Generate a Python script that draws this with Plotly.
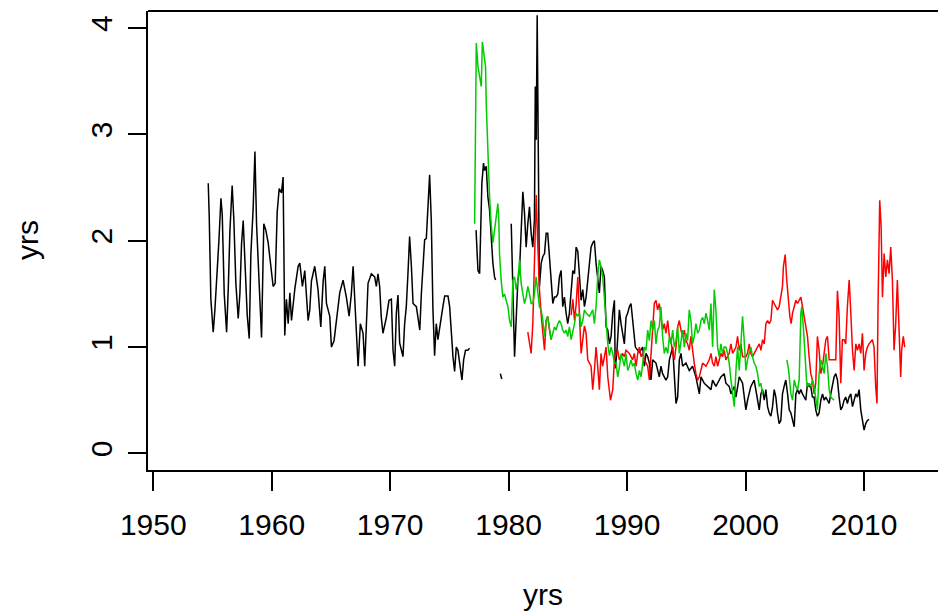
import plotly.graph_objects as go

# ---------------- data ----------------
black_t = [1954.64,1954.72,1954.86,1955.06,1955.2,1955.34,1955.54,1955.71,1955.82,1955.99,
           1956.19,1956.33,1956.47,1956.66,1956.8,1956.97,1957.17,1957.31,1957.45,1957.59,
           1957.76,1957.93,1958.1,1958.24,1958.43,1958.58,1958.72,1958.86,1959.0,1959.14,
           1959.33,1959.5,1959.7,1959.9,1960.12,1960.29,1960.46,1960.63,1960.82,1960.96,
           1961.1,1961.24,1961.39,1961.53,1961.67,1961.95,1962.23,1962.37,1962.59,1962.79,
           1962.93,1963.07,1963.21,1963.35,1963.63,1963.91,1964.14,1964.34,1964.48,1964.62,
           1964.9,1965.04,1965.26,1965.46,1965.74,1966.02,1966.3,1966.53,1966.72,1966.87,
           1967.0,1967.29,1967.48,1967.71,1967.85,1968.0,1968.13,1968.41,1968.69,1968.83,
           1968.97,1969.11,1969.25,1969.39,1969.68,1969.9,1970.1,1970.24,1970.38,1970.52,
           1970.66,1970.8,1970.94,1971.08,1971.22,1971.36,1971.5,1971.64,1971.79,1971.93,
           1972.21,1972.5,1972.63,1972.77,1972.91,1973.05,1973.19,1973.33,1973.47,1973.61,
           1973.75,1973.89,1974.03,1974.17,1974.31,1974.45,1974.6,1974.88,1975.02,1975.16,
           1975.3,1975.44,1975.58,1975.72,1975.86,1976.06,1976.2,1976.36,1976.56,1976.7,
           None,
           1977.25,1977.35,1977.41,1977.55,1977.63,1977.74,1977.88,1977.97,1978.11,1978.25,
           1978.39,1978.53,1978.67,1978.81,1978.9,
           None,
           1979.3,1979.42,
           None,
           1980.22,1980.36,1980.5,1980.78,1980.92,1981.1,1981.2,1981.34,1981.48,1981.62,
           1981.76,1981.9,1982.04,1982.18,1982.25,1982.33,1982.41,1982.5,1982.6,1982.75,
           1982.88,1983.03,1983.17,1983.3,1983.45,1983.59,1983.73,1983.87,1984.01,1984.15,
           1984.29,1984.43,1984.57,1984.71,1984.85,1984.99,1985.13,1985.28,1985.42,1985.56,
           1985.7,1985.84,1985.98,1986.12,1986.26,1986.4,1986.54,1986.68,1986.82,1986.96,
           1987.1,1987.24,1987.38,1987.52,1987.66,1987.8,1987.94,1988.08,1988.23,1988.37,
           1988.51,1988.65,1988.79,1988.93,1989.0,1989.13,1989.35,1989.49,1989.63,1989.77,
           1989.91,1990.05,1990.19,1990.33,1990.7,1991.04,1991.32,1991.46,1991.6,1991.74,
           1991.88,1992.02,1992.16,1992.44,1992.72,1992.86,1993.0,1993.28,1993.43,1993.57,
           1993.85,1993.99,1994.13,1994.27,1994.41,1994.55,1994.69,1994.97,1995.25,1995.53,
           1995.81,1996.1,1996.24,1996.52,1996.8,1997.08,1997.22,1997.5,1997.64,1997.92,
           1998.2,1998.34,1998.62,1998.77,1999.05,1999.19,1999.47,1999.75,2000.03,2000.17,
           2000.45,2000.73,2001.02,2001.16,2001.3,2001.44,2001.58,2001.72,2001.86,2002.0,
           2002.14,2002.28,2002.42,2002.56,2002.7,2002.84,2002.98,2003.12,2003.26,2003.4,
           2003.55,2003.69,2003.83,2003.97,2004.11,2004.25,2004.39,2004.53,2004.67,2004.81,
           2004.95,2005.09,2005.23,2005.37,2005.51,2005.65,2005.79,2005.93,2006.07,2006.21,
           2006.36,2006.5,2006.64,2006.78,2006.92,2007.06,2007.2,2007.34,2007.48,2007.62,
           2007.76,2007.9,2008.04,2008.18,2008.32,2008.46,2008.6,2008.74,2008.89,2009.03,
           2009.17,2009.31,2009.45,2009.59,2009.73,2009.87,2010.01,2010.15,2010.29,2010.43]
black_v = [2.54,2.24,1.45,1.14,1.35,1.6,2.0,2.40,2.25,1.5,
           1.14,1.55,2.1,2.52,2.2,1.6,1.27,1.5,1.97,2.19,
           1.75,1.3,1.08,1.88,2.3,2.84,2.15,1.79,1.4,1.09,
           2.16,2.10,1.98,1.8,1.57,1.6,2.27,2.49,2.45,2.60,
           1.11,1.45,1.22,1.51,1.25,1.55,1.76,1.79,1.57,1.72,
           1.47,1.25,1.35,1.62,1.76,1.54,1.19,1.62,1.76,1.41,
           1.29,1.00,1.06,1.25,1.51,1.63,1.47,1.29,1.5,1.76,
           1.48,0.82,1.22,1.13,0.82,1.22,1.6,1.69,1.66,1.57,
           1.69,1.57,1.28,1.13,1.28,1.44,1.45,0.97,0.82,1.32,
           1.49,1.04,0.97,0.91,1.22,1.38,1.69,2.04,1.76,1.41,
           1.38,1.16,1.5,1.82,2.01,2.02,2.29,2.62,2.19,1.35,
           0.92,1.22,1.07,1.16,1.29,1.38,1.48,1.48,1.38,1.14,
           0.91,0.77,1.0,0.97,0.85,0.69,0.88,0.97,0.97,0.99,
           None,
           2.1,1.85,1.72,1.69,2.04,2.54,2.73,2.66,2.70,2.41,
           2.29,2.04,1.79,1.66,1.63,
           None,
           0.75,0.70,
           None,
           2.16,1.5,0.91,1.63,1.72,2.2,2.46,2.26,1.94,2.16,
           2.32,2.07,1.94,2.2,3.45,2.95,4.12,2.91,1.57,1.79,
           1.85,1.88,2.07,2.07,1.79,1.63,1.41,1.47,1.47,1.5,
           1.66,1.72,1.38,1.47,1.32,1.22,1.32,1.54,1.72,1.69,
           1.94,1.90,1.63,1.44,1.54,1.38,1.47,1.63,1.85,1.94,
           1.98,2.0,1.79,1.63,1.51,1.76,1.72,1.66,1.19,1.16,
           1.03,1.1,1.32,1.44,0.8,0.94,1.35,1.22,1.1,1.03,
           1.28,1.32,1.38,1.41,1.0,0.95,1.0,0.82,0.94,0.91,
           0.85,0.69,0.88,0.85,0.72,0.82,0.75,0.69,0.72,0.88,
           1.0,0.69,0.47,0.53,0.88,0.94,0.82,0.85,0.78,0.82,
           0.72,0.56,0.72,0.66,0.63,0.6,0.69,0.63,0.66,0.72,
           0.75,0.66,0.63,0.56,0.63,0.53,0.72,0.66,0.41,0.5,
           0.63,0.69,0.5,0.41,0.56,0.6,0.5,0.6,0.44,0.38,
           0.35,0.44,0.6,0.53,0.38,0.28,0.31,0.56,0.63,0.69,
           0.56,0.41,0.38,0.31,0.25,0.56,0.6,0.56,0.6,0.56,
           0.53,0.5,0.66,0.63,0.63,0.53,0.53,0.41,0.35,0.38,
           0.5,0.56,0.5,0.53,0.5,0.47,0.56,0.63,0.72,0.75,
           0.69,0.53,0.41,0.44,0.5,0.53,0.47,0.53,0.56,0.44,
           0.5,0.56,0.53,0.6,0.41,0.31,0.22,0.28,0.31,0.32]

red_t = [1981.62,1981.76,1981.9,1982.04,1982.2,1982.33,1982.45,1982.6,1982.75,1982.89,
         1983.03,1983.17,1983.3,1983.45,1983.59,
         None,
         1985.28,1985.42,1985.56,1985.7,1985.84,1985.98,1986.12,
         1986.26,1986.4,1986.54,1986.68,1986.96,1987.1,1987.24,1987.38,1987.52,1987.66,
         1987.8,1987.94,1988.23,1988.37,1988.6,1988.79,1988.93,1989.07,1989.21,1989.35,
         1989.63,1989.77,1989.91,1990.19,1990.47,1990.61,1990.76,1990.9,1991.04,1991.18,
         1991.32,1991.46,1991.6,1991.74,1991.88,1992.02,1992.16,1992.3,1992.44,1992.58,
         1992.72,1992.86,1993.0,1993.14,1993.28,1993.43,1993.57,1993.71,1993.85,1993.99,
         1994.13,1994.27,1994.41,1994.55,1994.69,1994.83,1994.97,1995.11,1995.25,1995.39,
         1995.53,1995.67,1995.81,1995.96,1996.1,1996.24,1996.38,1996.66,1996.8,1996.94,
         1997.08,1997.22,1997.36,1997.5,1997.64,1997.78,1997.92,1998.06,1998.2,1998.34,
         1998.62,1998.77,1998.91,1999.05,1999.19,1999.33,1999.47,1999.61,1999.75,2000.03,
         2000.17,2000.31,2000.45,2000.59,2000.87,2001.02,2001.16,2001.3,2001.44,2001.58,
         2001.72,2001.86,2002.0,2002.14,2002.28,2002.42,2002.56,2002.7,2002.84,2002.98,
         2003.12,2003.2,2003.35,2003.48,2003.63,2003.74,2003.85,2003.97,2004.11,2004.25,
         2004.39,2004.53,2004.67,2004.81,2004.95,2005.09,2005.23,2005.37,2005.51,2005.65,
         2005.79,2005.93,2006.07,2006.21,2006.36,2006.5,2006.64,2006.78,2006.92,2007.06,
         2007.2,2007.34,2007.48,2007.62,2007.76,2007.9,2008.04,2008.18,2008.32,2008.46,
         2008.6,2008.75,2008.89,2009.03,2009.17,2009.31,2009.45,2009.59,2009.73,2009.87,
         2010.01,2010.15,2010.29,2010.43,2010.71,2010.85,2010.99,2011.1,2011.19,2011.33,
         2011.45,2011.56,2011.7,2011.84,2011.98,2012.12,2012.26,2012.4,2012.54,2012.68,
         2012.82,2012.96,2013.1,2013.18,2013.32,2013.44]
red_v = [1.14,1.03,0.94,1.22,1.9,2.43,2.0,1.54,1.3,1.16,
         0.97,1.25,1.29,1.16,1.07,
         None,
         1.3,1.45,1.25,1.4,1.66,1.25,0.94,
         1.07,1.2,1.13,0.88,0.82,0.6,0.78,1.0,0.82,0.6,
         0.94,0.82,1.0,0.72,0.5,0.6,0.88,0.94,0.97,0.88,
         0.94,0.91,0.97,0.94,0.88,0.94,0.82,0.94,1.0,0.91,
         0.94,0.88,0.85,0.82,0.69,0.94,1.16,1.41,1.44,1.35,
         1.41,1.25,1.16,1.22,1.13,1.25,1.1,1.06,0.94,0.88,
         1.0,1.19,1.25,1.16,1.1,1.16,1.06,1.03,0.97,1.1,
         0.94,0.85,0.75,0.69,0.72,0.78,0.85,0.82,0.85,0.88,
         0.94,0.85,0.82,0.91,0.82,0.88,0.94,0.91,0.97,0.88,
         0.94,1.03,0.94,0.97,1.0,1.1,0.97,1.03,0.91,0.91,
         0.94,1.03,0.94,0.91,0.97,1.0,1.03,0.97,1.07,1.03,
         1.22,1.25,1.22,1.25,1.44,1.41,1.38,1.35,1.38,1.5,
         1.57,1.76,1.87,1.63,1.38,1.29,1.22,1.32,1.38,1.44,
         1.41,1.44,1.47,1.38,1.29,1.22,1.10,0.91,0.75,0.69,
         0.56,0.66,1.1,0.97,0.75,0.82,0.94,1.07,1.1,0.88,
         0.88,0.88,0.88,0.88,1.53,1.29,0.66,1.07,1.07,1.03,
         1.38,1.63,1.32,0.97,0.78,1.03,0.97,1.03,0.94,1.13,
         0.78,0.94,1.0,1.03,1.07,1.0,0.63,0.47,1.41,2.38,
         2.13,1.47,1.88,1.66,1.82,1.69,1.94,1.63,0.97,1.22,
         1.63,1.16,0.72,0.97,1.1,1.0]

green_t = [1977.13,1977.2,1977.27,1977.41,1977.55,1977.69,1977.78,1977.9,1978.05,1978.11,
           1978.25,1978.39,1978.53,1978.67,1978.81,1978.95,1979.09,1979.17,1979.23,1979.37,
           1979.51,1979.65,1979.79,1979.94,1980.08,1980.22,1980.36,1980.5,1980.64,1980.78,
           1980.92,1981.06,1981.2,1981.34,1981.48,1981.62,1981.76,1981.9,1982.04,1982.18,
           1982.32,1982.46,1982.6,1982.75,1982.89,1983.03,1983.17,1983.3,1983.45,1983.59,
           1983.73,1983.87,1984.01,1984.15,1984.29,1984.43,1984.57,1984.71,1984.85,1984.99,
           1985.13,1985.28,1985.56,1985.7,1985.84,1985.98,1986.12,1986.26,1986.4,1986.54,
           1986.82,1987.1,1987.24,1987.38,1987.52,1987.66,1987.8,1987.94,1988.08,1988.23,
           1988.37,1988.51,1988.65,1988.79,1988.93,1989.07,1989.21,1989.35,1989.49,1989.63,
           1989.77,1989.91,1990.05,1990.19,1990.33,1990.47,1990.61,1990.76,1990.9,1991.04,
           1991.18,1991.32,1991.46,1991.6,1991.74,1991.88,1992.02,1992.16,1992.3,1992.44,
           1992.58,1992.72,1992.86,1993.0,1993.14,1993.28,1993.43,1993.57,1993.71,1993.85,
           1993.99,1994.13,1994.27,1994.41,1994.55,1994.69,1994.83,1994.97,1995.11,1995.25,
           1995.39,1995.53,1995.67,1995.81,1995.96,1996.1,1996.24,1996.38,1996.52,1996.66,
           1996.8,1996.94,1997.08,1997.22,1997.36,1997.5,1997.64,1997.78,1997.92,1998.06,
           1998.2,1998.34,1998.48,1998.62,1998.77,1998.91,1999.05,1999.19,1999.33,1999.47,
           1999.61,1999.75,1999.89,2000.03,2000.17,2000.31,2000.45,2000.59,2000.73,2000.87,
           2001.02,2001.16,2001.3,2001.44,
           None,
           2003.49,2003.63,2003.83,2003.97,2004.11,2004.25,2004.39,2004.53,2004.67,2004.75,
           2004.9,2005.04,2005.15,2005.23,2005.37,2005.51,2005.65,2005.79,2005.93,2006.07,
           2006.21,2006.36,2006.5,2006.64,2006.78,2006.92,2007.06,2007.2,2007.48]
green_v = [2.16,3.01,3.86,3.64,3.55,3.45,3.87,3.76,3.64,3.29,
           2.79,2.41,2.15,1.98,2.10,2.26,2.35,2.2,1.88,1.63,
           1.47,1.5,1.43,1.38,1.25,1.19,1.63,1.66,1.54,1.63,
           1.82,1.6,1.5,1.41,1.47,1.57,1.5,1.41,1.41,1.5,
           1.66,1.5,1.38,1.35,1.25,1.1,1.25,1.29,1.19,1.07,
           1.13,1.19,1.16,1.22,1.25,1.22,1.16,1.13,1.16,1.1,
           1.19,1.07,1.22,1.32,1.29,1.32,1.19,1.25,1.35,1.32,
           1.29,1.35,1.22,1.38,1.66,1.82,1.76,1.66,1.47,1.25,
           1.03,0.92,1.0,0.94,0.85,0.85,0.72,0.81,0.94,0.88,
           0.82,0.94,0.78,0.82,0.88,0.82,0.85,0.75,0.69,0.78,
           0.72,0.85,1.0,0.97,1.16,1.06,1.25,1.16,1.25,1.03,
           1.16,1.19,1.38,1.1,0.94,1.0,0.94,1.1,1.03,1.16,
           1.0,1.06,1.19,0.94,1.06,1.16,1.0,1.13,1.06,1.35,
           1.25,1.03,1.1,1.22,1.13,1.16,1.25,1.28,1.22,1.32,
           1.25,1.16,1.41,1.0,1.54,1.35,1.0,0.91,1.03,0.94,
           1.0,1.0,0.94,0.85,0.69,0.56,0.44,0.78,1.0,0.78,
           1.1,1.29,1.06,0.78,0.88,0.94,1.0,0.91,0.85,0.82,
           0.75,0.63,0.66,0.56,
           None,
           0.88,0.79,0.56,0.5,0.69,0.63,0.6,0.69,1.32,1.38,
           1.16,0.88,0.69,0.63,0.66,0.63,0.69,0.63,0.53,0.41,
           0.75,0.88,0.82,0.75,0.94,0.82,0.6,0.53,0.5]

x_ticks = [1950, 1960, 1970, 1980, 1990, 2000, 2010]
y_ticks = [0, 1, 2, 3, 4]
x_label = "yrs"
y_label = "yrs"

# ---------------- figure ----------------
FONT = "Liberation Sans, Arial, sans-serif"
fig = go.Figure()
for t, v, c in [(black_t, black_v, "#000000"),
                (red_t, red_v, "#FF0000"),
                (green_t, green_v, "#00CD00")]:
    fig.add_trace(go.Scatter(x=t, y=v, mode="lines", connectgaps=False,
                             line=dict(color=c, width=1.5), hoverinfo="skip",
                             showlegend=False))

axis_common = dict(showgrid=False, zeroline=False, ticks="outside",
                   tickcolor="#000000", tickwidth=1.6, linecolor="#000000",
                   linewidth=1.8, showline=True,
                   tickfont=dict(family=FONT, size=30, color="#000000"))

fig.update_xaxes(range=[1949.553, 2016.25], tickmode="array", tickvals=x_ticks,
                 ticktext=[str(v) for v in x_ticks], ticklen=19,
                 ticklabelstandoff=8, **axis_common)
fig.update_yaxes(range=[-0.156, 4.161], tickmode="array", tickvals=y_ticks,
                 ticktext=[str(v) for v in y_ticks], ticklen=18, tickangle=-90,
                 ticklabelstandoff=4, **axis_common)

# top border of the box
fig.add_shape(type="line", xref="paper", yref="paper", x0=0, x1=1, y0=1, y1=1,
              line=dict(color="#000000", width=1.8))

fig.add_annotation(text=x_label, xref="paper", yref="paper", x=0.5, y=-0.272,
                   xanchor="center", yanchor="middle", showarrow=False,
                   font=dict(family=FONT, size=30, color="#000000"))
fig.add_annotation(text=y_label, xref="paper", yref="paper", x=-0.1525, y=0.5,
                   xanchor="center", yanchor="middle", showarrow=False, textangle=-90,
                   font=dict(family=FONT, size=30, color="#000000"))

fig.update_layout(width=938, height=614, margin=dict(l=148, r=0, t=11, b=144),
                  paper_bgcolor="white", plot_bgcolor="white", hovermode=False)

fig.write_html("out.html", config={"displayModeBar": False})
